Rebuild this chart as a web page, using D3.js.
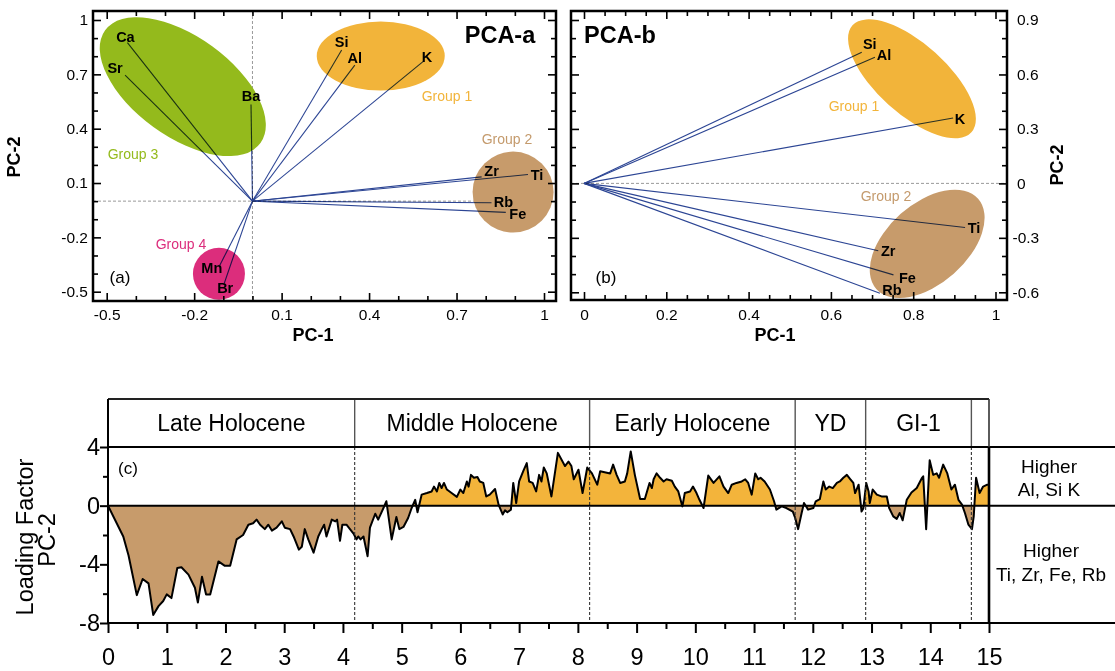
<!DOCTYPE html>
<html><head><meta charset="utf-8">
<script src="https://cdn.jsdelivr.net/npm/d3@7"></script>
<style>
html,body{margin:0;padding:0;background:#fff;}
svg{display:block;font-family:"Liberation Sans",Arial,Helvetica,sans-serif;}
</style></head><body>
<svg id="chart" width="1115" height="671"></svg>
<script>
// ---------------- DATA ----------------
// PCA-a loadings
const elemA = ["Ca","Sr","Ba","Si","Al","K","Zr","Ti","Rb","Fe","Mn","Br"];
const pc1A  = [-0.429,-0.437,-0.005,0.306,0.351,0.585,0.786,0.945,0.820,0.869,-0.112,-0.097];
const pc2A  = [0.875,0.696,0.534,0.834,0.751,0.770,0.134,0.147,-0.009,-0.062,-0.354,-0.455];
// PCA-b loadings
const elemB = ["Si","Al","K","Ti","Zr","Fe","Rb"];
const pc1B  = [0.675,0.707,0.897,0.926,0.715,0.752,0.719];
const pc2B  = [0.722,0.695,0.360,-0.243,-0.371,-0.504,-0.605];
// tick labels
const ticksAx = [-0.5,-0.2,0.1,0.4,0.7,1];
const ticksAy = [-0.5,-0.2,0.1,0.4,0.7,1];
const ticksBx = [0,0.2,0.4,0.6,0.8,1];
const ticksBy = [-0.6,-0.3,0,0.3,0.6,0.9];
const ticksCx = [0,1,2,3,4,5,6,7,8,9,10,11,12,13,14,15];
const ticksCy = [4,0,-4,-8];
// groups
const groupsA = ["Group 1","Group 2","Group 3","Group 4"];
const groupsB = ["Group 1","Group 2"];
// periods (ka)
const periodNames = ["Late Holocene","Middle Holocene","Early Holocene","YD","GI-1",""];
const periodBounds = [0,4.2,8.2,11.7,12.9,14.7,15];
// PC-2 loading factor time series
const ageKa = [0,0.26,0.35,0.49,0.59,0.69,0.77,0.86,0.94,1.00,1.08,1.18,1.25,1.37,1.48,1.53,1.60,1.67,1.74,1.88,1.99,2.08,2.19,2.30,2.39,2.47,2.53,2.59,2.67,2.73,2.79,2.87,2.96,3.01,3.10,3.16,3.25,3.30,3.35,3.41,3.50,3.58,3.64,3.68,3.72,3.81,3.87,3.90,3.95,3.99,4.06,4.12,4.18,4.23,4.26,4.30,4.35,4.42,4.46,4.55,4.60,4.69,4.74,4.83,4.91,4.96,5.03,5.11,5.17,5.23,5.27,5.34,5.43,5.51,5.55,5.60,5.64,5.68,5.72,5.77,5.85,5.94,6.00,6.05,6.11,6.14,6.18,6.23,6.29,6.33,6.39,6.44,6.50,6.59,6.65,6.72,6.76,6.80,6.86,6.90,6.95,7.00,7.07,7.13,7.17,7.23,7.29,7.34,7.38,7.42,7.47,7.55,7.66,7.78,7.84,7.89,7.93,8.01,8.08,8.16,8.24,8.33,8.38,8.55,8.60,8.66,8.72,8.80,8.84,8.90,8.97,9.06,9.14,9.22,9.26,9.29,9.34,9.40,9.46,9.51,9.60,9.65,9.71,9.78,9.82,9.91,9.96,10.02,10.07,10.14,10.22,10.31,10.41,10.48,10.56,10.62,10.70,10.79,10.85,10.90,10.96,11.02,11.07,11.11,11.18,11.27,11.34,11.38,11.47,11.55,11.66,11.70,11.75,11.81,11.85,11.92,12.01,12.05,12.12,12.18,12.22,12.28,12.34,12.41,12.46,12.52,12.58,12.64,12.69,12.72,12.78,12.83,12.86,12.91,12.95,12.97,13.02,13.09,13.17,13.26,13.30,13.37,13.43,13.48,13.53,13.60,13.68,13.77,13.86,13.88,13.93,13.99,14.05,14.11,14.15,14.22,14.29,14.36,14.42,14.48,14.54,14.59,14.65,14.71,14.74,14.78,14.84,14.90,14.97,15.00];
const pc2Load = [0,-2.1,-3.4,-6.1,-5.0,-5.3,-7.45,-6.85,-6.5,-6.05,-6.3,-4.25,-4.2,-4.7,-5.6,-6.6,-4.85,-6.05,-6.05,-3.8,-4.1,-4.1,-2.3,-2.0,-1.3,-1.2,-0.95,-1.3,-1.6,-1.3,-1.7,-1.5,-1.07,-1.5,-1.6,-2.1,-3.0,-2.8,-1.6,-2.3,-3.2,-2.1,-1.6,-1.3,-2.1,-0.95,-1.07,-0.95,-2.4,-1.3,-1.3,-1.6,-1.9,-2.3,-2.1,-2.3,-2.1,-3.45,-1.5,-0.55,-0.95,-0.16,0.3,-2.3,-0.77,-1.6,-1.45,-0.84,-0.16,0.4,-0.45,0.75,0.86,0.97,1.3,0.97,1.55,1.2,1.55,1.1,0.86,0.6,1.1,0.86,1.65,1.3,2.1,1.9,1.95,1.65,1.55,0.63,0.75,1.14,0.07,-0.6,-0.32,-0.45,-0.27,1.55,0.18,1.65,2.35,2.9,1.65,1.55,0.97,2.1,1.65,2.6,2.2,0.63,3.6,2.7,3.0,2.7,1.8,2.45,0.86,2.6,2.2,1.43,2.35,2.2,2.8,2.1,1.55,1.65,2.2,3.7,2.1,0.45,0.45,1.55,1.2,1.8,2.2,1.9,1.65,1.8,1.7,1.3,0.97,-0.05,0.86,0.97,1.3,0.86,0.4,-0.16,2.05,1.55,2.0,1.3,0.86,1.43,1.55,1.65,1.8,1.55,0.75,2.2,1.8,1.9,1.65,1.1,0.3,-0.27,-0.05,-0.16,-0.4,-0.84,-1.6,-0.5,0.18,-0.27,-0.16,0.3,0.45,1.65,1.1,1.3,1.2,1.55,1.65,1.9,2.1,1.8,1.55,0.86,1.43,-0.4,-0.2,1.55,0.97,0.18,1.1,0.75,0.63,0.63,-0.16,-0.73,-0.9,-0.5,-1.0,0.4,0.9,1.2,1.9,2.0,-1.6,3.1,2.1,2.2,1.9,2.8,2.2,1.1,1.43,0.4,0.07,-0.5,-1.3,-1.6,-0.73,1.9,0.86,1.3,1.43,1.43];

// ---------------- LAYOUT / STYLE ----------------
const C = {green:"#94ba1c", orange:"#f2b43a", brown:"#c79b6b", pink:"#dc2d7c",
           g1txt:"#f2b43a", g2txt:"#c49a6c", g3txt:"#94ba1c", g4txt:"#dc2d7c",
           vec:"#2c4594", fillPos:"#f3b43b", fillNeg:"#c79b6b"};
const svg = d3.select("#chart");
const defs = svg.append("defs");
const num = d => String(Math.round(d*100)/100);

function styleAxis(g, w){
  g.select(".domain").remove();
  g.attr("font-family",null).attr("font-size",null);
  g.selectAll(".tick line").attr("stroke","#000").attr("stroke-width",w||1.6);
  g.selectAll(".tick text").attr("fill","#000");
}
function minorVals(lo,hi,step,majors){
  const out=[]; const n=Math.round((hi-lo)/step);
  for(let i=0;i<=n;i++){const v=Math.round((lo+i*step)*1000)/1000; if(!majors.some(m=>Math.abs(m-v)<1e-6)) out.push(v);}
  return out;
}

// ---------- Panel A ----------
const fA = {l:93,r:556,t:11,b:301};
const xA = d3.scaleLinear().domain([-0.5,1]).range([106.7,544]);
const yA = d3.scaleLinear().domain([-0.5,1]).range([291.7,20]);
const gA = svg.append("g");
defs.append("clipPath").attr("id","clipA").append("rect").attr("x",fA.l).attr("y",fA.t).attr("width",fA.r-fA.l).attr("height",fA.b-fA.t);

// dashed zero lines
gA.append("line").attr("x1",xA(0)).attr("x2",xA(0)).attr("y1",fA.t).attr("y2",fA.b).attr("stroke","#999").attr("stroke-width",1).attr("stroke-dasharray","3,2");
gA.append("line").attr("x1",fA.l).attr("x2",fA.r).attr("y1",yA(0)).attr("y2",yA(0)).attr("stroke","#999").attr("stroke-width",1).attr("stroke-dasharray","3,2");

// ellipses (layout annotations)
const ellA = [
  {cx:0.440, cy:0.801, rx:64, ry:34.5, rot:0, fill:C.orange},
  {cx:0.894, cy:0.050, rx:40.5, ry:40.5, rot:0, fill:C.brown},
  {cx:-0.239, cy:0.632, rx:96, ry:50, rot:36, fill:C.green},
  {cx:-0.115, cy:-0.401, rx:26, ry:26, rot:0, fill:C.pink}];
gA.append("g").attr("clip-path","url(#clipA)").selectAll("ellipse").data(ellA).join("ellipse")
  .attr("cx",0).attr("cy",0).attr("rx",d=>d.rx).attr("ry",d=>d.ry).attr("fill",d=>d.fill)
  .attr("transform",d=>`translate(${xA(d.cx)},${yA(d.cy)}) rotate(${d.rot})`);

// vectors
const vecA = elemA.map((e,i)=>({e, x:pc1A[i], y:pc2A[i]}));
gA.append("g").style("mix-blend-mode","multiply").selectAll("line").data(vecA).join("line")
  .attr("x1",xA(0)).attr("y1",yA(0)).attr("x2",d=>xA(d.x)).attr("y2",d=>yA(d.y))
  .attr("stroke",C.vec).attr("stroke-width",1.1);
const offA = {Ca:[-2,-6],Sr:[-10,-7],Ba:[0,-9],Si:[0,-8],Al:[0,-7],K:[4,-5],Zr:[10,-6],Ti:[9,0],Rb:[12,-1],Fe:[12,1],Mn:[-8,3],Br:[1,4]};
gA.append("g").selectAll("text").data(vecA).join("text")
  .attr("x",d=>xA(d.x)+offA[d.e][0]).attr("y",d=>yA(d.y)+offA[d.e][1])
  .attr("text-anchor","middle").attr("dy","0.36em").attr("font-weight","bold").attr("font-size",14.5).text(d=>d.e);

// group labels
const gLabA = [[447,96,C.g1txt],[507,138.5,C.g2txt],[133,154,C.g3txt],[181,243.5,C.g4txt]];
gA.append("g").selectAll("text").data(groupsA).join("text")
  .attr("x",(d,i)=>gLabA[i][0]).attr("y",(d,i)=>gLabA[i][1]).attr("dy","0.36em")
  .attr("text-anchor","middle").attr("font-size",14).attr("fill",(d,i)=>gLabA[i][2]).text(d=>d);

gA.append("text").attr("x",500).attr("y",35).attr("dy","0.36em").attr("text-anchor","middle").attr("font-weight","bold").attr("font-size",23.5).text("PCA-a");
gA.append("text").attr("x",120).attr("y",277).attr("dy","0.36em").attr("text-anchor","middle").attr("font-size",17).text("(a)");

// axes A
gA.append("g").attr("transform",`translate(0,${fA.b})`).call(d3.axisBottom(xA).tickValues(ticksAx).tickSize(-8).tickPadding(8).tickFormat(num)).call(styleAxis).attr("font-size",15.5);
gA.append("g").attr("transform",`translate(0,${fA.b})`).call(d3.axisBottom(xA).tickValues(minorVals(-0.5,1,0.1,ticksAx)).tickSize(-5).tickFormat("")).call(styleAxis);
gA.append("g").attr("transform",`translate(0,${fA.t})`).call(d3.axisTop(xA).tickValues(ticksAx).tickSize(-8).tickFormat("")).call(styleAxis);
gA.append("g").attr("transform",`translate(0,${fA.t})`).call(d3.axisTop(xA).tickValues(minorVals(-0.5,1,0.1,ticksAx)).tickSize(-5).tickFormat("")).call(styleAxis);
gA.append("g").attr("transform",`translate(${fA.l},0)`).call(d3.axisLeft(yA).tickValues(ticksAy).tickSize(-8).tickPadding(5).tickFormat(num)).call(styleAxis).attr("font-size",15.5);
gA.append("g").attr("transform",`translate(${fA.l},0)`).call(d3.axisLeft(yA).tickValues(minorVals(-0.5,1,0.1,ticksAy)).tickSize(-5).tickFormat("")).call(styleAxis);
gA.append("g").attr("transform",`translate(${fA.r},0)`).call(d3.axisRight(yA).tickValues(ticksAy).tickSize(-8).tickFormat("")).call(styleAxis);
gA.append("g").attr("transform",`translate(${fA.r},0)`).call(d3.axisRight(yA).tickValues(minorVals(-0.5,1,0.1,ticksAy)).tickSize(-5).tickFormat("")).call(styleAxis);
gA.append("rect").attr("x",fA.l).attr("y",fA.t).attr("width",fA.r-fA.l).attr("height",fA.b-fA.t).attr("fill","none").attr("stroke","#000").attr("stroke-width",2.5);
gA.append("text").attr("x",313).attr("y",335).attr("dy","0.36em").attr("text-anchor","middle").attr("font-weight","bold").attr("font-size",18).text("PC-1");
gA.append("text").attr("transform","translate(14,157) rotate(-90)").attr("dy","0.36em").attr("text-anchor","middle").attr("font-weight","bold").attr("font-size",18).text("PC-2");

// ---------- Panel B ----------
const fB = {l:571,r:1007,t:11,b:300};
const xB = d3.scaleLinear().domain([0,1]).range([584,995.5]);
const yB = d3.scaleLinear().domain([-0.6,0.9]).range([292.3,20]);
const gB = svg.append("g");
defs.append("clipPath").attr("id","clipB").append("rect").attr("x",fB.l).attr("y",fB.t).attr("width",fB.r-fB.l).attr("height",fB.b-fB.t);
gB.append("line").attr("x1",fB.l).attr("x2",fB.r).attr("y1",yB(0)).attr("y2",yB(0)).attr("stroke","#999").attr("stroke-width",1).attr("stroke-dasharray","3,2");
const ellB = [
  {cx:0.797, cy:0.576, rx:80, ry:35, rot:42, fill:C.orange},
  {cx:0.834, cy:-0.333, rx:68, ry:40, rot:-41.5, fill:C.brown}];
gB.append("g").attr("clip-path","url(#clipB)").selectAll("ellipse").data(ellB).join("ellipse")
  .attr("cx",0).attr("cy",0).attr("rx",d=>d.rx).attr("ry",d=>d.ry).attr("fill",d=>d.fill)
  .attr("transform",d=>`translate(${xB(d.cx)},${yB(d.cy)}) rotate(${d.rot})`);
const vecB = elemB.map((e,i)=>({e, x:pc1B[i], y:pc2B[i]}));
gB.append("g").style("mix-blend-mode","multiply").selectAll("line").data(vecB).join("line")
  .attr("x1",xB(0)).attr("y1",yB(0)).attr("x2",d=>xB(d.x)).attr("y2",d=>yB(d.y))
  .attr("stroke",C.vec).attr("stroke-width",1.1);
const offB = {Si:[8,-9],Al:[9,-2],K:[7,1],Ti:[9,0],Zr:[10,0],Fe:[14,3],Rb:[12,-3]};
gB.append("g").selectAll("text").data(vecB).join("text")
  .attr("x",d=>xB(d.x)+offB[d.e][0]).attr("y",d=>yB(d.y)+offB[d.e][1])
  .attr("text-anchor","middle").attr("dy","0.36em").attr("font-weight","bold").attr("font-size",14.5).text(d=>d.e);
const gLabB = [[854,106,C.g1txt],[886,196,C.g2txt]];
gB.append("g").selectAll("text").data(groupsB).join("text")
  .attr("x",(d,i)=>gLabB[i][0]).attr("y",(d,i)=>gLabB[i][1]).attr("dy","0.36em")
  .attr("text-anchor","middle").attr("font-size",14).attr("fill",(d,i)=>gLabB[i][2]).text(d=>d);
gB.append("text").attr("x",620).attr("y",35).attr("dy","0.36em").attr("text-anchor","middle").attr("font-weight","bold").attr("font-size",23.5).text("PCA-b");
gB.append("text").attr("x",606).attr("y",277).attr("dy","0.36em").attr("text-anchor","middle").attr("font-size",17).text("(b)");
const minBx = minorVals(0,1,0.05,ticksBx), minBy = minorVals(-0.6,0.9,0.1,ticksBy);
gB.append("g").attr("transform",`translate(0,${fB.b})`).call(d3.axisBottom(xB).tickValues(ticksBx).tickSize(-8).tickPadding(9).tickFormat(num)).call(styleAxis).attr("font-size",15.5);
gB.append("g").attr("transform",`translate(0,${fB.b})`).call(d3.axisBottom(xB).tickValues(minBx).tickSize(-5).tickFormat("")).call(styleAxis);
gB.append("g").attr("transform",`translate(0,${fB.t})`).call(d3.axisTop(xB).tickValues(ticksBx).tickSize(-8).tickFormat("")).call(styleAxis);
gB.append("g").attr("transform",`translate(0,${fB.t})`).call(d3.axisTop(xB).tickValues(minBx).tickSize(-5).tickFormat("")).call(styleAxis);
gB.append("g").attr("transform",`translate(${fB.l},0)`).call(d3.axisLeft(yB).tickValues(ticksBy).tickSize(-8).tickFormat("")).call(styleAxis);
gB.append("g").attr("transform",`translate(${fB.l},0)`).call(d3.axisLeft(yB).tickValues(minBy).tickSize(-5).tickFormat("")).call(styleAxis);
const rAx = gB.append("g").attr("transform",`translate(${fB.r},0)`).call(d3.axisRight(yB).tickValues(ticksBy).tickSize(-8).tickPadding(10).tickFormat(num)).call(styleAxis).attr("font-size",15.5);
rAx.selectAll(".tick text").attr("dx",d=>d<0?-4.5:0);
gB.append("g").attr("transform",`translate(${fB.r},0)`).call(d3.axisRight(yB).tickValues(minBy).tickSize(-5).tickFormat("")).call(styleAxis);
gB.append("rect").attr("x",fB.l).attr("y",fB.t).attr("width",fB.r-fB.l).attr("height",fB.b-fB.t).attr("fill","none").attr("stroke","#000").attr("stroke-width",2.5);
gB.append("text").attr("x",775).attr("y",335).attr("dy","0.36em").attr("text-anchor","middle").attr("font-weight","bold").attr("font-size",18).text("PC-1");
gB.append("text").attr("transform","translate(1057,165) rotate(-90)").attr("dy","0.36em").attr("text-anchor","middle").attr("font-weight","bold").attr("font-size",18).text("PC-2");

// ---------- Panel C ----------
const xC = d3.scaleLinear().domain([0,15]).range([108,989]);
const yC = d3.scaleLinear().domain([-8,4]).range([623,447]);
const hdrTop = 399, W = 1115;
const gC = svg.append("g");
const series = ageKa.map((a,i)=>({a, v:pc2Load[i]}));
defs.append("clipPath").attr("id","clipPos").append("rect").attr("x",xC(0)).attr("y",yC(4)).attr("width",xC(15)-xC(0)).attr("height",yC(0)-yC(4));
defs.append("clipPath").attr("id","clipNeg").append("rect").attr("x",xC(0)).attr("y",yC(0)).attr("width",xC(15)-xC(0)).attr("height",yC(-8)-yC(0));
const area = d3.area().x(d=>xC(d.a)).y0(yC(0)).y1(d=>yC(d.v));
gC.append("path").datum(series).attr("d",area).attr("fill",C.fillPos).attr("clip-path","url(#clipPos)");
gC.append("path").datum(series).attr("d",area).attr("fill",C.fillNeg).attr("clip-path","url(#clipNeg)");
gC.append("path").datum(series).attr("d",d3.line().x(d=>xC(d.a)).y(d=>yC(d.v))).attr("fill","none").attr("stroke","#000").attr("stroke-width",2).attr("stroke-linejoin","round");

// dashed period boundaries
const inner = periodBounds.slice(1,-1);
gC.append("g").selectAll("line").data(inner).join("line")
  .attr("x1",d=>xC(d)).attr("x2",d=>xC(d)).attr("y1",yC(4)).attr("y2",yC(-8))
  .attr("stroke","#333").attr("stroke-width",1.1).attr("stroke-dasharray","3,2");
// header box
gC.append("g").selectAll("line").data(inner).join("line")
  .attr("x1",d=>xC(d)).attr("x2",d=>xC(d)).attr("y1",hdrTop).attr("y2",yC(4))
  .attr("stroke","#555").attr("stroke-width",1.4);
gC.append("line").attr("x1",xC(0)).attr("x2",xC(15)).attr("y1",hdrTop).attr("y2",hdrTop).attr("stroke","#222").attr("stroke-width",2);
gC.append("g").selectAll("text").data(periodNames).join("text")
  .attr("x",(d,i)=>(xC(periodBounds[i])+xC(periodBounds[i+1]))/2).attr("y",423).attr("dy","0.36em")
  .attr("text-anchor","middle").attr("font-size",23).text(d=>d);
// horizontal lines (full width)
[4,0,-8].forEach(v=>gC.append("line").attr("x1",xC(0)).attr("x2",W).attr("y1",yC(v)).attr("y2",yC(v)).attr("stroke","#000").attr("stroke-width",2));
gC.append("line").attr("x1",xC(0)).attr("x2",xC(0)).attr("y1",hdrTop).attr("y2",yC(-8)).attr("stroke","#000").attr("stroke-width",2);
gC.append("line").attr("x1",xC(15)).attr("x2",xC(15)).attr("y1",hdrTop).attr("y2",yC(4)).attr("stroke","#333").attr("stroke-width",1.6);
gC.append("line").attr("x1",xC(15)).attr("x2",xC(15)).attr("y1",yC(4)).attr("y2",yC(-8)).attr("stroke","#000").attr("stroke-width",2.6);

// axes C
gC.append("g").attr("transform",`translate(0,${yC(-8)})`).call(d3.axisBottom(xC).tickValues(ticksCx).tickSize(10).tickPadding(15).tickFormat(num)).call(styleAxis,2).attr("font-size",23.5);
gC.append("g").attr("transform",`translate(0,${yC(-8)})`).call(d3.axisBottom(xC).tickValues(d3.range(0.5,15,1)).tickSize(6).tickFormat("")).call(styleAxis,2);
gC.append("g").attr("transform",`translate(${xC(0)},0)`).call(d3.axisLeft(yC).tickValues(ticksCy).tickSize(8).tickPadding(0).tickFormat(num)).call(styleAxis,2).attr("font-size",23.5);
gC.append("g").attr("transform",`translate(${xC(0)},0)`).call(d3.axisLeft(yC).tickValues([2,-2,-6]).tickSize(5).tickFormat("")).call(styleAxis,2);

gC.append("text").attr("x",118).attr("y",468).attr("dy","0.36em").attr("font-size",17).text("(c)");
gC.append("text").attr("transform","translate(25,537) rotate(-90)").attr("dy","0.36em").attr("text-anchor","middle").attr("font-size",23.5).text("Loading Factor");
gC.append("text").attr("transform","translate(47,540) rotate(-90)").attr("dy","0.36em").attr("text-anchor","middle").attr("font-size",23.5).text("PC-2");
const sideTxt = [["Higher",1049,472.5],["Al, Si K",1049,496],["Higher",1051,557],["Ti, Zr, Fe, Rb",1051,580.5]];
gC.append("g").selectAll("text").data(sideTxt).join("text")
  .attr("x",d=>d[1]).attr("y",d=>d[2]).attr("text-anchor","middle").attr("font-size",19).text(d=>d[0]);
</script></body></html>
